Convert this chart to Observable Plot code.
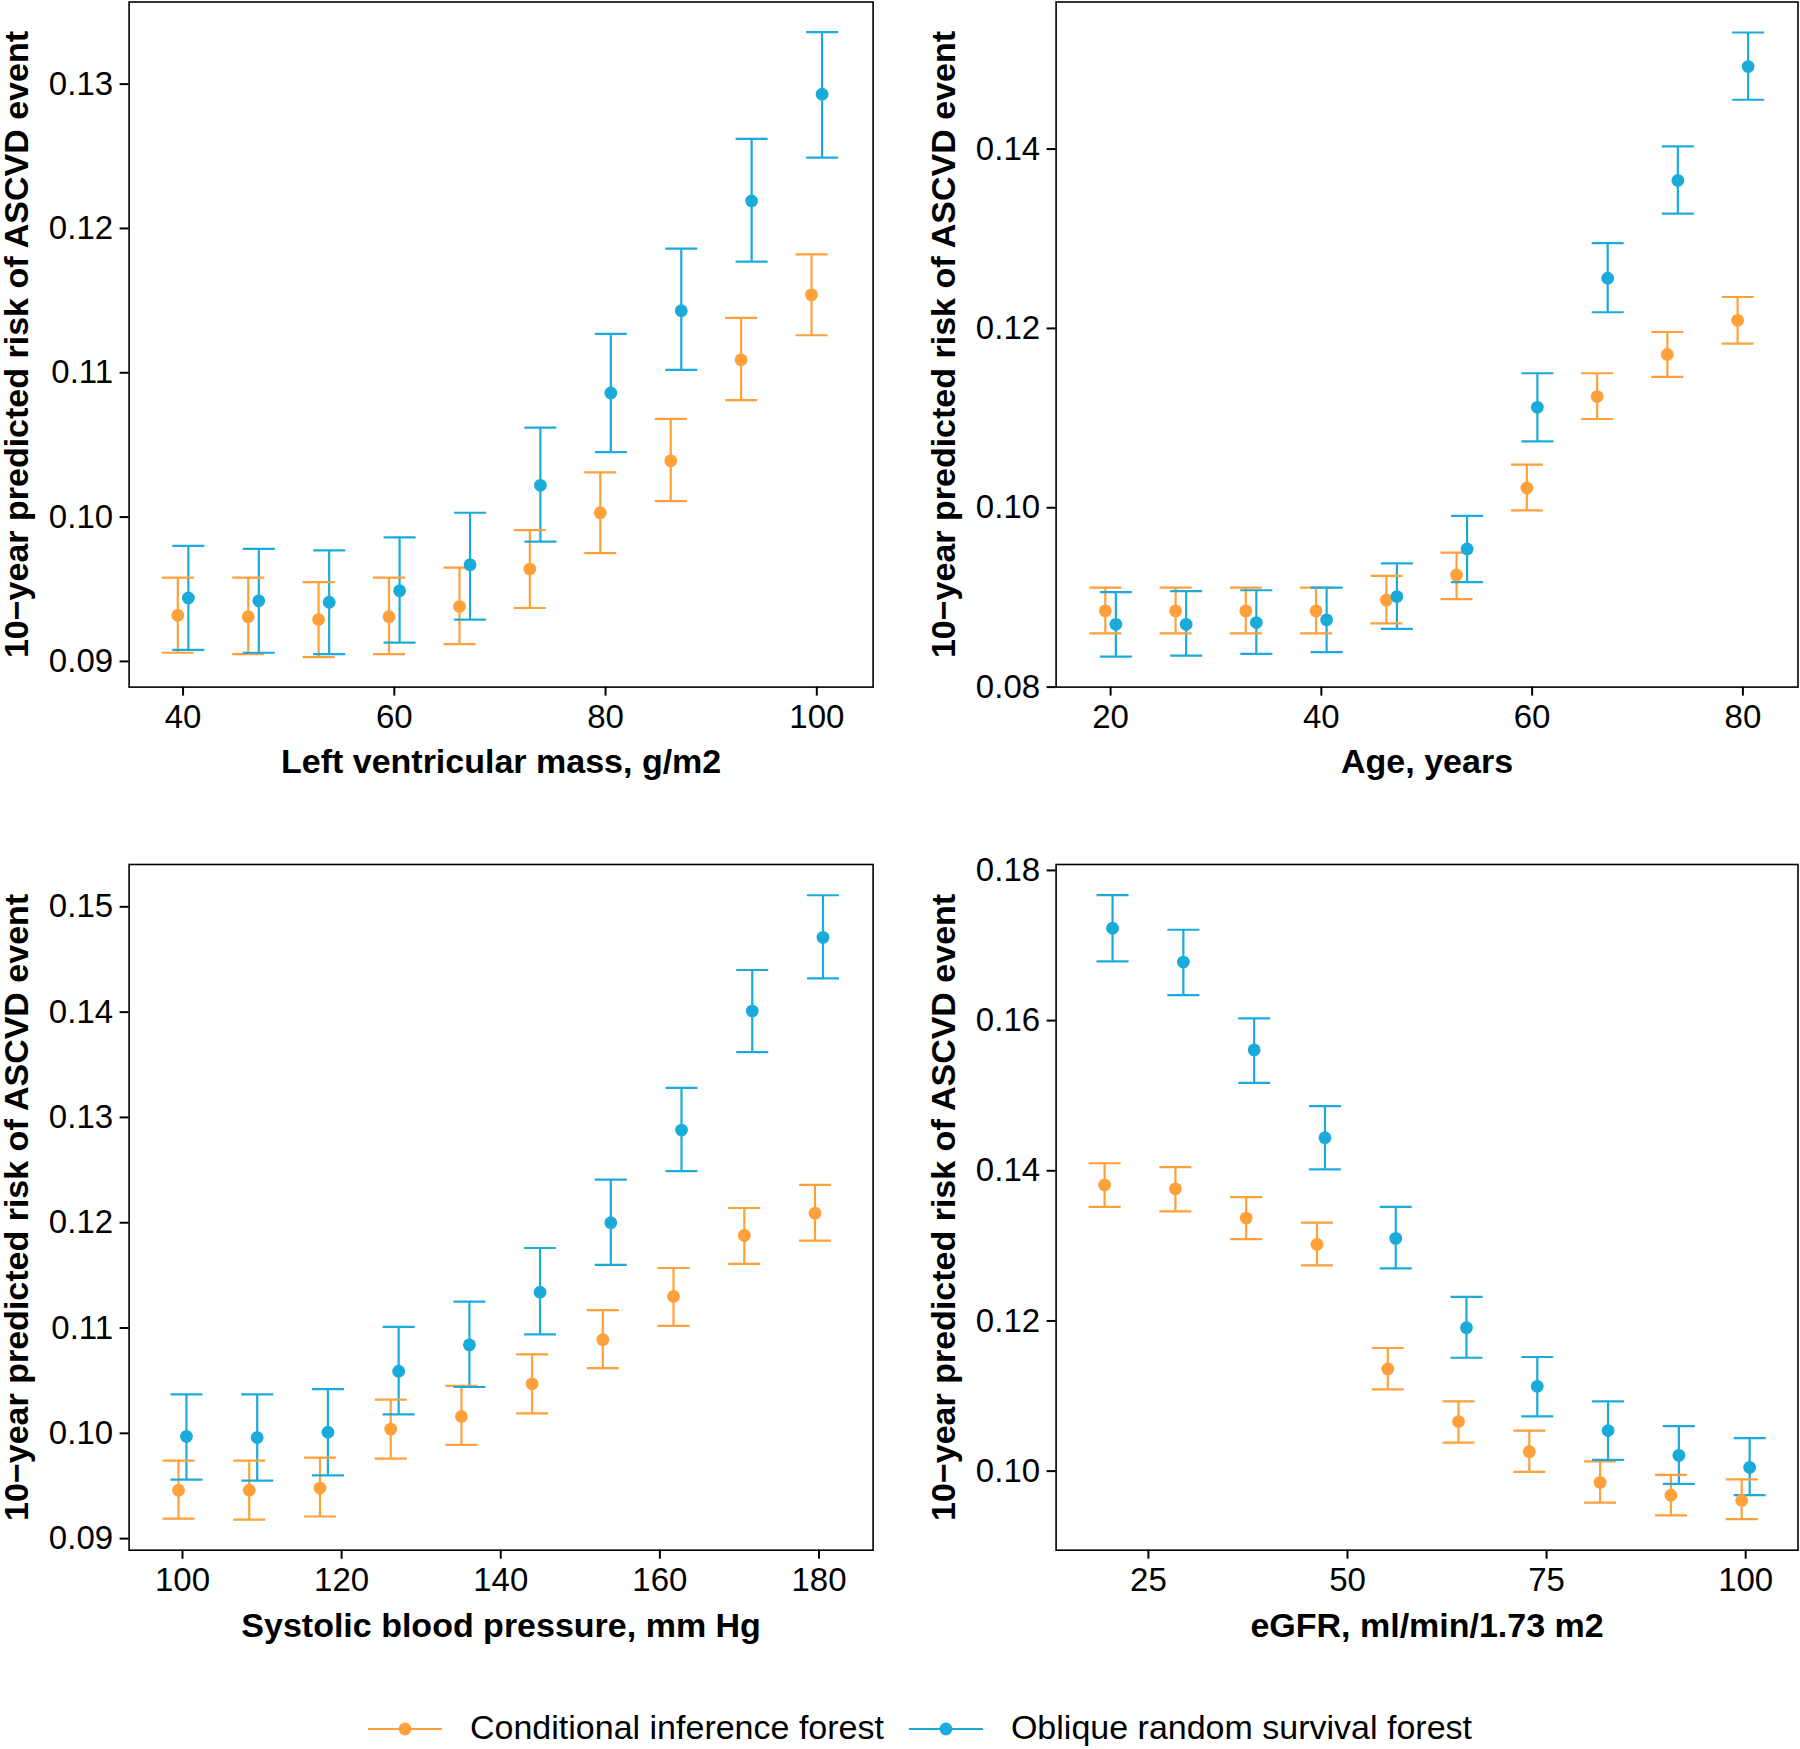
<!DOCTYPE html>
<html>
<head>
<meta charset="utf-8">
<script src="https://cdn.jsdelivr.net/npm/d3@7"></script>
<script src="https://cdn.jsdelivr.net/npm/@observablehq/plot@0.6"></script>
<style>
  html, body { margin: 0; padding: 0; background: #fff; }
  body { width: 1800px; height: 1749px; position: relative; overflow: hidden;
         font-family: "Liberation Sans", Arial, sans-serif; }
  .panel { position: absolute; }
  #legend { position: absolute; left: 0; top: 1700px; }
</style>
</head>
<body>
<div id="p1" class="panel" style="left:0px;top:0px"></div>
<div id="p2" class="panel" style="left:900px;top:0px"></div>
<div id="p3" class="panel" style="left:0px;top:860px"></div>
<div id="p4" class="panel" style="left:900px;top:860px"></div>
<div id="legend"></div>
<script>
// ---------- data ----------
const models = ["Conditional inference forest", "Oblique random survival forest"];
const modelColors = ["#FFA03A", "#1AABDB"];
const yTitle = "10\u2212year predicted risk of ASCVD event";

// Left ventricular mass
const lvmTitle = "Left ventricular mass, g/m2";
const lvmX = [40, 46.67, 53.33, 60, 66.67, 73.33, 80, 86.67, 93.33, 100];
const lvmCif    = [0.0932, 0.0931, 0.0929, 0.0931, 0.0938, 0.0964, 0.1003, 0.1039, 0.1109, 0.1154];
const lvmCifLo  = [0.0906, 0.0905, 0.0903, 0.0905, 0.0912, 0.0937, 0.0975, 0.1011, 0.1081, 0.1126];
const lvmCifHi  = [0.0958, 0.0958, 0.0955, 0.0958, 0.0965, 0.0991, 0.1031, 0.1068, 0.1138, 0.1182];
const lvmOrsf   = [0.0944, 0.0942, 0.0941, 0.0949, 0.0967, 0.1022, 0.1086, 0.1143, 0.1219, 0.1293];
const lvmOrsfLo = [0.0908, 0.0906, 0.0905, 0.0913, 0.0929, 0.0983, 0.1045, 0.1102, 0.1177, 0.1249];
const lvmOrsfHi = [0.0980, 0.0978, 0.0977, 0.0986, 0.1003, 0.1062, 0.1127, 0.1186, 0.1262, 0.1336];
const lvmXTicks = [40, 60, 80, 100];
const lvmYTicks = [0.09, 0.10, 0.11, 0.12, 0.13];

// Age
const ageTitle = "Age, years";
const ageX = [20, 26.67, 33.33, 40, 46.67, 53.33, 60, 66.67, 73.33, 80];
const ageCif    = [0.0885, 0.0885, 0.0885, 0.0885, 0.0897, 0.0925, 0.1022, 0.1124, 0.1171, 0.1209];
const ageCifLo  = [0.0860, 0.0860, 0.0860, 0.0860, 0.0871, 0.0898, 0.0997, 0.1099, 0.1146, 0.1183];
const ageCifHi  = [0.0911, 0.0911, 0.0911, 0.0911, 0.0924, 0.0950, 0.1048, 0.1150, 0.1196, 0.1235];
const ageOrsf   = [0.0870, 0.0870, 0.0872, 0.0875, 0.0901, 0.0954, 0.1112, 0.1256, 0.1365, 0.1492];
const ageOrsfLo = [0.0834, 0.0835, 0.0837, 0.0839, 0.0865, 0.0917, 0.1074, 0.1218, 0.1328, 0.1455];
const ageOrsfHi = [0.0906, 0.0907, 0.0908, 0.0911, 0.0938, 0.0991, 0.1150, 0.1295, 0.1403, 0.1530];
const ageXTicks = [20, 40, 60, 80];
const ageYTicks = [0.08, 0.10, 0.12, 0.14];

// Systolic blood pressure
const sbpTitle = "Systolic blood pressure, mm Hg";
const sbpX = [100, 108.89, 117.78, 126.67, 135.56, 144.44, 153.33, 162.22, 171.11, 180];
const sbpCif    = [0.0946, 0.0946, 0.0948, 0.1004, 0.1016, 0.1047, 0.1089, 0.1130, 0.1188, 0.1209];
const sbpCifLo  = [0.0919, 0.0918, 0.0921, 0.0976, 0.0989, 0.1019, 0.1062, 0.1102, 0.1161, 0.1183];
const sbpCifHi  = [0.0974, 0.0974, 0.0977, 0.1032, 0.1045, 0.1075, 0.1117, 0.1157, 0.1214, 0.1236];
const sbpOrsf   = [0.0997, 0.0996, 0.1001, 0.1059, 0.1084, 0.1134, 0.1200, 0.1288, 0.1401, 0.1471];
const sbpOrsfLo = [0.0956, 0.0955, 0.0960, 0.1018, 0.1044, 0.1094, 0.1160, 0.1249, 0.1362, 0.1432];
const sbpOrsfHi = [0.1037, 0.1037, 0.1042, 0.1101, 0.1125, 0.1176, 0.1241, 0.1328, 0.1440, 0.1511];
const sbpXTicks = [100, 120, 140, 160, 180];
const sbpYTicks = [0.09, 0.10, 0.11, 0.12, 0.13, 0.14, 0.15];

// eGFR
const egfrTitle = "eGFR, ml/min/1.73 m2";
const egfrX = [20, 28.89, 37.78, 46.67, 55.56, 64.44, 73.33, 82.22, 91.11, 100];
const egfrCif    = [0.1381, 0.1376, 0.1337, 0.1302, 0.1136, 0.1066, 0.1026, 0.0985, 0.0968, 0.0961];
const egfrCifLo  = [0.1352, 0.1346, 0.1309, 0.1274, 0.1109, 0.1038, 0.0999, 0.0958, 0.0941, 0.0936];
const egfrCifHi  = [0.1410, 0.1405, 0.1365, 0.1331, 0.1164, 0.1093, 0.1054, 0.1013, 0.0995, 0.0989];
const egfrOrsf   = [0.1723, 0.1678, 0.1561, 0.1444, 0.1310, 0.1191, 0.1113, 0.1054, 0.1021, 0.1005];
const egfrOrsfLo = [0.1679, 0.1634, 0.1517, 0.1402, 0.1270, 0.1151, 0.1073, 0.1015, 0.0983, 0.0968];
const egfrOrsfHi = [0.1767, 0.1721, 0.1603, 0.1486, 0.1352, 0.1232, 0.1152, 0.1093, 0.1060, 0.1044];
const egfrXTicks = [25, 50, 75, 100];
const egfrYTicks = [0.10, 0.12, 0.14, 0.16, 0.18];

// ---------- helpers ----------
function rows(x, mean, lo, hi, model) {
  return x.map((v, i) => ({x: v, y: mean[i], lo: lo[i], hi: hi[i], model}));
}
const dodge = d => d.x + (d.model === models[0] ? -0.5 : 0.5);
// horizontal cap symbol for error bars
const capSymbol = {
  draw(ctx, size) {
    const w = Math.sqrt(size / Math.PI);
    ctx.moveTo(-w, 0);
    ctx.lineTo(w, 0);
  }
};
const FONT = "'Liberation Sans', Arial, Helvetica, sans-serif";

function panel(el, cfg) {
  const data = [
    ...rows(cfg.x, cfg.cif, cfg.cifLo, cfg.cifHi, models[0]),
    ...rows(cfg.x, cfg.orsf, cfg.orsfLo, cfg.orsfHi, models[1])
  ];
  const chart = Plot.plot({
    width: 900,
    height: 800,
    marginLeft: cfg.ml, marginRight: cfg.mr, marginTop: cfg.mt, marginBottom: cfg.mb,
    style: {fontFamily: FONT, fontSize: "33px", color: "black", background: "white", overflow: "visible"},
    x: {domain: cfg.xDomain, label: null},
    y: {domain: cfg.yDomain, label: null},
    color: {domain: models, range: modelColors},
    marks: [
      Plot.ruleX(data, {x: dodge, y1: "lo", y2: "hi", stroke: "model", strokeWidth: 2.2}),
      Plot.dot(data, {x: dodge, y: "hi", symbol: capSymbol, r: 16, stroke: "model", fill: "none", strokeWidth: 2.2}),
      Plot.dot(data, {x: dodge, y: "lo", symbol: capSymbol, r: 16, stroke: "model", fill: "none", strokeWidth: 2.2}),
      Plot.dot(data, {x: dodge, y: "y", r: 6.4, fill: "model", stroke: null}),
      Plot.frame({stroke: "black", strokeWidth: 1.6}),
      Plot.axisX(cfg.xTicks, {tickSize: 9, tickPadding: 8, label: null, stroke: "black", strokeWidth: 2, fill: "black", fontSize: 33}),
      Plot.axisY(cfg.yTicks, {tickSize: 9, tickPadding: 7, tickFormat: d3.format(".2f"), label: null, stroke: "black", strokeWidth: 2, fill: "black", fontSize: 33}),
      Plot.text([cfg.xTitle], {frameAnchor: "bottom", lineAnchor: "middle", textAnchor: "middle", dy: 75.5, fontSize: 34, fontWeight: "bold", fill: "black"}),
      Plot.text([yTitle], {frameAnchor: "left", lineAnchor: "middle", textAnchor: "middle", rotate: -90, dx: -112, fontSize: 34, fontWeight: "bold", fill: "black"})
    ]
  });
  document.getElementById(el).appendChild(chart);
}

panel("p1", {
  x: lvmX, cif: lvmCif, cifLo: lvmCifLo, cifHi: lvmCifHi, orsf: lvmOrsf, orsfLo: lvmOrsfLo, orsfHi: lvmOrsfHi,
  xTicks: lvmXTicks, yTicks: lvmYTicks, xTitle: lvmTitle,
  xDomain: [34.89, 105.33], yDomain: [0.08822, 0.13569],
  ml: 128.6, mr: 27.4, mt: 1.5, mb: 113.4
});
panel("p2", {
  x: ageX, cif: ageCif, cifLo: ageCifLo, cifHi: ageCifHi, orsf: ageOrsf, orsfLo: ageOrsfLo, orsfHi: ageOrsfHi,
  xTicks: ageXTicks, yTicks: ageYTicks, xTitle: ageTitle,
  xDomain: [14.83, 85.23], yDomain: [0.08, 0.1564],
  ml: 155.6, mr: 2.5, mt: 1.5, mb: 113.4
});
panel("p3", {
  x: sbpX, cif: sbpCif, cifLo: sbpCifLo, cifHi: sbpCifHi, orsf: sbpOrsf, orsfLo: sbpOrsfLo, orsfHi: sbpOrsfHi,
  xTicks: sbpXTicks, yTicks: sbpYTicks, xTitle: sbpTitle,
  xDomain: [93.29, 186.8], yDomain: [0.0889, 0.15402],
  ml: 128.6, mr: 27.4, mt: 4, mb: 110.3
});
panel("p4", {
  x: egfrX, cif: egfrCif, cifLo: egfrCifLo, cifHi: egfrCifHi, orsf: egfrOrsf, orsfLo: egfrOrsfLo, orsfHi: egfrOrsfHi,
  xTicks: egfrXTicks, yTicks: egfrYTicks, xTitle: egfrTitle,
  xDomain: [13.41, 106.57], yDomain: [0.08947, 0.18079],
  ml: 155.6, mr: 2.5, mt: 4, mb: 110.3
});

// ---------- legend ----------
(function legend() {
  const svg = d3.select("#legend").append("svg")
    .attr("width", 1800).attr("height", 49)
    .style("font-family", FONT);
  let x0 = 368;
  models.forEach((m, i) => {
    const g = svg.append("g");
    g.append("line").attr("x1", x0).attr("x2", x0 + 74).attr("y1", 29).attr("y2", 29)
      .attr("stroke", modelColors[i]).attr("stroke-width", 2.2);
    g.append("circle").attr("cx", x0 + 37).attr("cy", 29).attr("r", 6.4).attr("fill", modelColors[i]);
    const t = g.append("text").attr("x", x0 + 102).attr("y", 39)
      .attr("font-size", 34).attr("fill", "black").text(m);
    x0 = x0 + 102 + t.node().getComputedTextLength() + 25;
  });
})();
</script>
</body>
</html>
